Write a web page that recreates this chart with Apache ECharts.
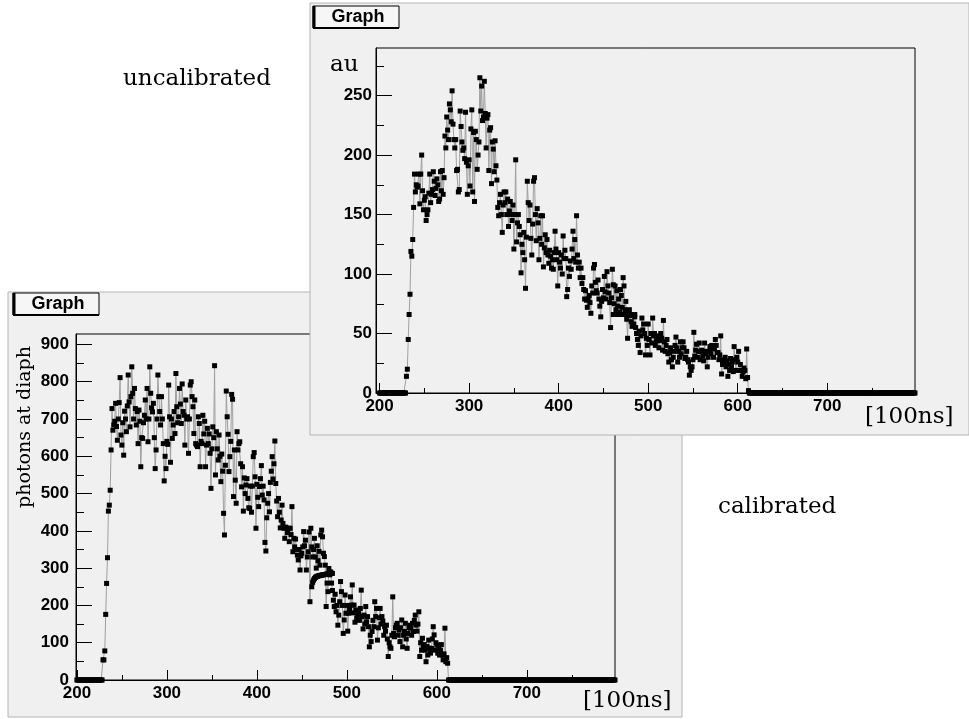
<!DOCTYPE html>
<html>
<head>
<meta charset="utf-8">
<script src="https://cdn.jsdelivr.net/npm/echarts@6/dist/echarts.min.js"></script>
<style>
  html, body { margin: 0; padding: 0; background: #fff; }
  #chart { width: 969px; height: 719px; }
</style>
</head>
<body>
<div id="chart"></div>
<script>
// x runs in steps of 1 [100ns] from 200 to 798
const xStart = 200;

// uncalibrated (au): zeros 200..229, signal 230..612
const auHeadZeros = [
  0,0,0,0,0,0,0,0,0,0,0,0,0,0,0,0,0,0,0,0,
  0,0,0,0,0,0,0,0,0,0
];
const auValues = [
  14,20,45,66,83,119,115,129,156,184,
  169,175,173,174,184,159,184,200,170,154,
  162,165,145,150,154,168,184,160,167,171,
  186,178,166,172,180,175,161,163,186,170,
  187,167,181,216,206,232,221,213,243,238,
  228,254,226,213,206,213,187,188,169,171,
  237,224,211,204,206,197,236,194,167,191,
  196,174,222,238,169,219,161,220,213,188,
  200,211,265,237,258,229,232,262,235,206,
  231,234,187,221,223,176,211,205,186,212,
  191,179,156,149,160,167,150,135,158,169,
  160,169,150,163,140,153,161,150,145,158,
  121,150,196,127,143,150,140,133,101,125,
  118,135,112,88,131,178,160,145,158,130,
  116,142,178,181,150,128,155,143,112,130,
  149,125,149,106,122,133,118,129,116,109,
  120,115,105,112,104,118,136,121,112,90,
  118,110,105,116,100,132,113,120,113,81,
  87,105,98,111,104,121,136,113,129,110,
  149,116,105,110,97,105,92,97,87,79,
  86,78,72,79,82,76,67,90,84,105,
  108,93,86,84,95,79,73,64,77,87,
  80,98,85,79,102,90,84,76,55,80,
  104,91,75,90,70,86,73,79,68,87,
  82,72,97,90,70,77,62,46,67,70,
  65,60,56,66,58,64,55,50,45,40,
  52,34,48,63,53,58,50,32,46,40,
  58,45,32,50,42,63,48,50,40,44,
  48,45,38,44,50,46,36,61,43,35,
  40,45,33,26,34,38,28,22,30,35,
  40,47,38,26,35,30,43,33,38,43,
  38,29,30,35,28,26,15,22,19,22,
  28,51,31,36,41,30,35,42,28,35,
  36,31,27,42,33,35,22,30,35,39,
  33,40,37,30,38,45,40,34,34,28,
  32,48,16,24,28,25,30,22,27,14,
  24,19,29,22,26,18,39,28,19,30,
  26,35,19,24,19,14,18,21,19,12,
  37,13,2
];
// flat run of points around 461..485
const auFlatStart = 461;
const auFlat = [66,66,66,66,66,66,66,66,66,66,66,66,66,66,66,66,66,66,66,66,66,66,66,66,66];

// calibrated (photons at diaph): zeros 200..228, signal 229..612
const calHeadZeros = [
  0,0,0,0,0,0,0,0,0,0,0,0,0,0,0,0,0,0,0,0,
  0,0,0,0,0,0,0,0,0
];
const calValues = [
  54,54,78,176,259,328,453,469,509,617,728,
  670,684,694,742,680,643,700,744,811,657,
  630,690,603,721,700,666,735,818,746,679,
  760,840,769,700,782,728,684,720,634,724,
  694,572,650,648,690,710,751,700,782,639,
  700,840,769,730,719,742,650,567,617,700,
  818,760,720,684,760,700,634,534,600,567,
  640,632,791,706,584,700,648,684,720,661,
  822,733,690,706,782,740,688,794,720,710,
  630,751,700,706,608,700,791,800,760,733,
  661,751,634,630,626,706,688,572,640,634,
  710,660,694,572,630,675,634,660,608,514,
  620,679,650,843,550,666,620,590,657,600,
  532,606,560,447,389,576,775,706,659,559,
  599,640,766,753,492,617,536,474,666,617,
  634,639,580,518,572,453,542,500,523,540,
  487,462,460,520,450,520,599,610,545,407,
  525,490,465,519,540,575,496,520,483,369,
  346,435,474,500,451,530,560,599,539,580,
  641,527,480,438,487,450,408,429,469,420,
  407,380,410,407,395,407,371,407,390,465,
  344,380,357,378,350,335,322,350,295,333,
  340,357,398,360,375,295,330,344,397,210,
  407,357,330,350,380,330,300,360,320,345,
  308,389,402,384,340,331,308,197,260,237,
  299,282,290,260,240,214,197,230,183,200,
  147,174,210,264,237,200,125,161,228,179,
  200,131,179,190,223,201,255,180,201,155,
  188,165,174,179,160,192,241,170,137,174,
  150,197,156,170,143,89,120,103,130,160,
  143,210,170,192,107,140,167,192,150,170,
  158,120,143,131,147,110,63,100,89,85,
  120,223,125,116,140,147,152,120,134,103,
  140,161,89,120,130,152,110,85,125,140,
  147,139,120,152,130,160,174,147,131,150,
  183,63,100,80,112,89,95,80,49,90,
  67,107,85,72,85,110,143,121,80,100,
  94,72,85,67,80,95,67,54,70,139,
  49,60,45
];
const calFlatStart = 461;
const calFlat = [250,262,268,272,275,277,278,279,280,280,281,281,282,282,283,283,284,284,285,285,285,286,286,286];

// both graphs are zero from 613 to 798
const tailZeros = [
  0,0,0,0,0,0,0,0,0,0,0,0,0,0,0,0,0,0,0,0,
  0,0,0,0,0,0,0,0,0,0,0,0,0,0,0,0,0,0,0,0,
  0,0,0,0,0,0,0,0,0,0,0,0,0,0,0,0,0,0,0,0,
  0,0,0,0,0,0,0,0,0,0,0,0,0,0,0,0,0,0,0,0,
  0,0,0,0,0,0,0,0,0,0,0,0,0,0,0,0,0,0,0,0,
  0,0,0,0,0,0,0,0,0,0,0,0,0,0,0,0,0,0,0,0,
  0,0,0,0,0,0,0,0,0,0,0,0,0,0,0,0,0,0,0,0,
  0,0,0,0,0,0,0,0,0,0,0,0,0,0,0,0,0,0,0,0,
  0,0,0,0,0,0,0,0,0,0,0,0,0,0,0,0,0,0,0,0,
  0,0,0,0,0,0
];

// ticks and labels
const xLabels = [200, 300, 400, 500, 600, 700];
const xMinor = [250, 350, 450, 550, 650, 750];
const auTicks = [0, 50, 100, 150, 200, 250];
const auMinor = [25, 75, 125, 175, 225, 275];
const calTicks = [0, 100, 200, 300, 400, 500, 600, 700, 800, 900];
const calMinor = [50, 150, 250, 350, 450, 550, 650, 750, 850];

const toPairs = (start, vals) => vals.map((v, i) => [start + i, v]);
const auData = toPairs(xStart, auHeadZeros.concat(auValues, tailZeros));
const calData = toPairs(xStart, calHeadZeros.concat(calValues, tailZeros));

const chart = echarts.init(document.getElementById('chart'));

const labelFont = { color: '#000', fontFamily: 'Liberation Sans', fontWeight: 'bold', fontSize: 17 };
const black = { color: '#000', width: 1 };

const xAxisPair = (grid, min, max, z) => [
  {
    type: 'value', gridIndex: grid, position: 'bottom', min: min, max: max, z: z,
    axisLine: { onZero: false, lineStyle: black },
    axisTick: { inside: true, length: 10, customValues: xLabels, lineStyle: black },
    axisLabel: Object.assign({ customValues: xLabels, margin: 5 }, labelFont),
    splitLine: { show: false }
  },
  {
    type: 'value', gridIndex: grid, position: 'bottom', min: min, max: max, z: z,
    axisLine: { show: false },
    axisTick: { inside: true, length: 5, customValues: xMinor, lineStyle: black },
    axisLabel: { show: false },
    splitLine: { show: false }
  }
];

const yAxisPair = (grid, max, major, minor, z, margin) => [
  {
    type: 'value', gridIndex: grid, position: 'left', min: 0, max: max, z: z,
    axisLine: { onZero: false, lineStyle: black },
    axisTick: { inside: true, length: 16, customValues: major, lineStyle: black },
    axisLabel: Object.assign({ customValues: major, margin: margin }, labelFont),
    splitLine: { show: false }
  },
  {
    type: 'value', gridIndex: grid, position: 'left', min: 0, max: max, z: z,
    axisLine: { show: false },
    axisTick: { inside: true, length: 8, customValues: minor, lineStyle: black },
    axisLabel: { show: false },
    splitLine: { show: false }
  }
];

const graphSeries = (data, xi, yi, z) => ({
  type: 'line', data: data, xAxisIndex: xi, yAxisIndex: yi, z: z,
  clip: false, silent: true, animation: false,
  symbol: 'rect', symbolSize: 5, showSymbol: true,
  itemStyle: { color: '#000' },
  lineStyle: { color: '#a0a0a0', width: 1 },
  emphasis: { disabled: true }
});

const serif = (text, x, y, size, z, align, extra) => Object.assign({
  type: 'text', x: x, y: y, z: z,
  style: {
    text: text, fill: '#000', fontFamily: 'DejaVu Serif', fontSize: size,
    textAlign: align, textVerticalAlign: 'middle', align: align, verticalAlign: 'middle'
  }
}, extra || {});

const titleBox = (x, y, z) => [
  { type: 'rect', z: z, shape: { x: x, y: y, width: 86, height: 22 },
    style: { fill: '#f6f6f6', stroke: '#000', lineWidth: 1 } },
  { type: 'line', z: z, shape: { x1: x + 1, y1: y, x2: x + 1, y2: y + 22 },
    style: { stroke: '#000', lineWidth: 3 } },
  { type: 'line', z: z, shape: { x1: x, y1: y + 22, x2: x + 86, y2: y + 22 },
    style: { stroke: '#000', lineWidth: 2 } },
  { type: 'text', z: z, x: x + 45, y: y + 11,
    style: { text: 'Graph', fill: '#000', fontFamily: 'Liberation Sans', fontWeight: 'bold', fontSize: 18,
      textAlign: 'center', textVerticalAlign: 'middle', align: 'center', verticalAlign: 'middle' } }
];

const option = {
  animation: false,
  backgroundColor: '#fff',
  grid: [
    { left: 76, top: 334, width: 539, height: 346, show: true, z: 1,
      backgroundColor: 'transparent', borderColor: '#000', borderWidth: 1 },
    { left: 376, top: 48, width: 539, height: 345, show: true, z: 11,
      backgroundColor: 'transparent', borderColor: '#000', borderWidth: 1 }
  ],
  xAxis: [].concat(xAxisPair(0, 199, 798, 1), xAxisPair(1, 196, 798, 11)),
  yAxis: [].concat(yAxisPair(0, 928, calTicks, calMinor, 1, 7), yAxisPair(1, 290, auTicks, auMinor, 11, 4)),
  series: [
    graphSeries(calData, 0, 0, 2),
    graphSeries(toPairs(calFlatStart, calFlat), 0, 0, 2),
    graphSeries(auData, 2, 2, 12),
    graphSeries(toPairs(auFlatStart, auFlat), 2, 2, 12)
  ],
  graphic: { elements: [
    // calibrated panel (behind)
    { type: 'rect', z: 0, shape: { x: 8, y: 292, width: 674, height: 425 },
      style: { fill: '#f0f0f0', stroke: '#b4b4b4', lineWidth: 1 } },
    ...titleBox(13, 293, 1),
    serif('photons at diaph', 25, 427, 19, 1, 'center', { rotation: Math.PI / 2 }),
    serif('[100ns]', 583, 701, 23, 1, 'left'),
    // uncalibrated panel (in front)
    { type: 'rect', z: 10, shape: { x: 310, y: 3, width: 659, height: 432 },
      style: { fill: '#f0f0f0', stroke: '#b4b4b4', lineWidth: 1 } },
    ...titleBox(313, 6, 11),
    serif('au', 330, 65, 23, 11, 'left'),
    serif('[100ns]', 865, 417, 23, 11, 'left'),
    // captions on the page
    serif('uncalibrated', 123, 79, 23, 20, 'left'),
    serif('calibrated', 718, 507, 23, 20, 'left')
  ] }
};

chart.setOption(option);
</script>
</body>
</html>
